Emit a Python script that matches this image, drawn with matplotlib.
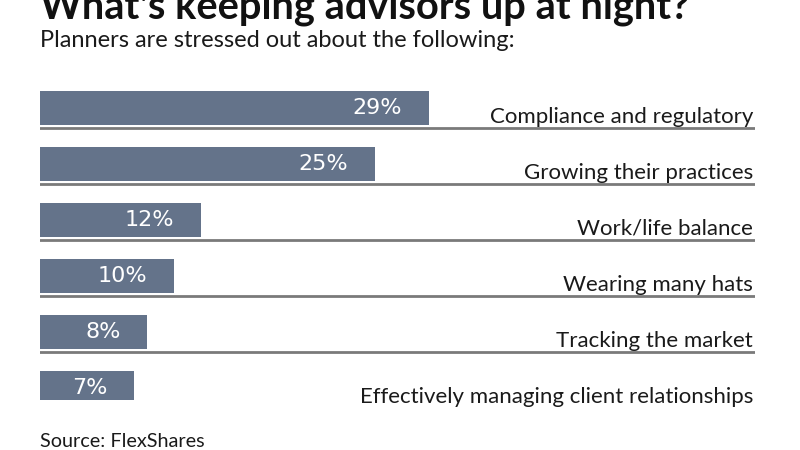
import matplotlib
matplotlib.use('Agg')
import matplotlib.pyplot as plt

categories = ['Compliance and regulatory', 'Growing their practices', 'Work/life balance',
              'Wearing many hats', 'Tracking the market', 'Effectively managing client relationships']
values = [29, 25, 12, 10, 8, 7]

W, H = 800, 450
fig = plt.figure(figsize=(8, 4.5), dpi=100)
plt.rcParams['font.family'] = 'Lato'

# axes in pixel space: x 40..755, y 85..400
ax = fig.add_axes([40 / W, 1 - 400 / H, 715 / W, 315 / H])
ax.set_xlim(0, 715 / 13.41)
ax.set_ylim(5.21, -0.41)
ax.axis('off')

pos = range(len(values))
ax.barh(pos, values, height=34 / 56, color='#64738a', edgecolor='none')
for i, (v, c) in enumerate(zip(values, categories)):
    ax.axhline(i + 0.355, color='#7a7a7a', lw=2)
    ax.text(v - 2.0, i, f'{v}%', color='white', ha='right', va='center',
            fontsize=16, family='DejaVu Sans')
    ax.text(ax.get_xlim()[1] - 0.15, i + 0.26, c, ha='right', va='baseline',
            fontsize=16, color='#1a1a1a')

fig.text(40 / W, 1 - 18 / H, "What's keeping advisors up at night?", fontsize=28.7,
         fontweight='bold', va='baseline', ha='left', color='#111111')
fig.text(40 / W, 1 - 47 / H, 'Planners are stressed out about the following:', fontsize=17,
         va='baseline', ha='left', color='#1a1a1a')
fig.text(40 / W, 1 - 447 / H, 'Source: FlexShares', fontsize=14.3,
         va='baseline', ha='left', color='#1a1a1a')

fig.savefig('out.png', dpi=100)
